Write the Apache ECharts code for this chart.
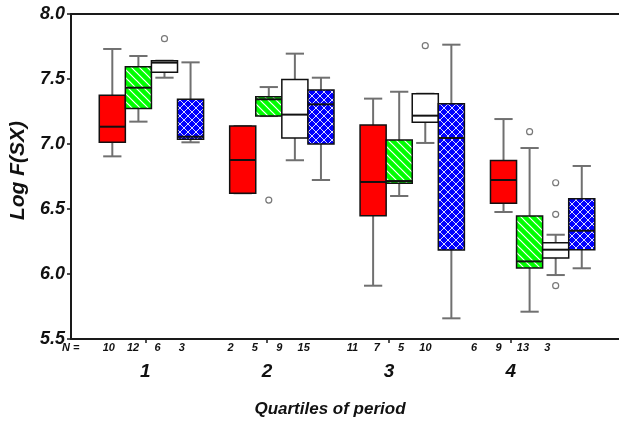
<!DOCTYPE html>
<html>
<head>
<meta charset="utf-8">
<script src="https://cdn.jsdelivr.net/npm/echarts@6/dist/echarts.min.js"></script>
<style>
  html, body { margin: 0; padding: 0; background: #ffffff; }
  #chart { width: 619px; height: 424px; }
</style>
</head>
<body>
<div id="chart"></div>
<script>
// Quartiles of period (x categories)
const quartiles = ['1', '2', '3', '4'];

// Five-number summaries per quartile: [min, q1, median, q3, max]
const redBoxes = [
  [6.905, 7.013, 7.133, 7.375, 7.731],
  [6.621, 6.621, 6.877, 7.138, 7.138],
  [5.910, 6.449, 6.708, 7.146, 7.349],
  [6.477, 6.544, 6.723, 6.874, 7.192]
];
const greenBoxes = [
  [7.172, 7.274, 7.433, 7.595, 7.677],
  [7.215, 7.215, 7.344, 7.364, 7.438],
  [6.600, 6.698, 6.715, 7.031, 7.402],
  [5.710, 6.046, 6.097, 6.446, 6.969]
];
const whiteBoxes = [
  [7.510, 7.551, 7.626, 7.641, 7.641],
  [6.875, 7.046, 7.226, 7.497, 7.695],
  [7.008, 7.167, 7.218, 7.387, 7.387],
  [5.992, 6.123, 6.187, 6.241, 6.302]
];
const blueBoxes = [
  [7.013, 7.036, 7.056, 7.344, 7.628],
  [6.723, 7.000, 7.305, 7.415, 7.510],
  [5.659, 6.185, 7.046, 7.310, 7.764],
  [6.044, 6.187, 6.333, 6.579, 6.831]
];

// Outliers: [quartile index, value]
const redOutliers = [];
const greenOutliers = [[1, 6.569], [3, 7.095]];
const whiteOutliers = [[0, 7.810], [2, 7.756], [3, 6.702], [3, 6.459], [3, 5.910]];
const blueOutliers = [];

// Group sizes (N) per quartile
const redN = [10, 2, 11, 6];
const greenN = [12, 5, 7, 9];
const whiteN = [6, 9, 5, 13];
const blueN = [3, 15, 10, 3];

const FONT = '"Liberation Sans", Arial, Helvetica, sans-serif';

// Fill patterns
function hatchPattern() {
  const c = document.createElement('canvas');
  c.width = 8; c.height = 8;
  const g = c.getContext('2d');
  g.fillStyle = '#00ff00';
  g.fillRect(0, 0, 8, 8);
  g.strokeStyle = '#ffffff';
  g.lineWidth = 1.2;
  g.beginPath();
  g.moveTo(-2, -2); g.lineTo(10, 10);
  g.moveTo(-2, 6); g.lineTo(2, 10);
  g.moveTo(6, -2); g.lineTo(10, 2);
  g.stroke();
  return { type: 'pattern', image: c, repeat: 'repeat' };
}
function crossPattern() {
  const c = document.createElement('canvas');
  c.width = 8; c.height = 8;
  const g = c.getContext('2d');
  g.fillStyle = '#0000ff';
  g.fillRect(0, 0, 8, 8);
  g.strokeStyle = '#dcdcff';
  g.lineWidth = 1;
  g.beginPath();
  g.moveTo(-2, -2); g.lineTo(10, 10);
  g.moveTo(10, -2); g.lineTo(-2, 10);
  g.moveTo(-2, 6); g.lineTo(2, 10);
  g.moveTo(6, -2); g.lineTo(10, 2);
  g.moveTo(2, -2); g.lineTo(-2, 2);
  g.moveTo(10, 6); g.lineTo(6, 10);
  g.stroke();
  return { type: 'pattern', image: c, repeat: 'repeat' };
}

const groupsInfo = [
  { boxes: redBoxes, outliers: redOutliers, n: redN, fill: '#ff0000' },
  { boxes: greenBoxes, outliers: greenOutliers, n: greenN, fill: hatchPattern() },
  { boxes: whiteBoxes, outliers: whiteOutliers, n: whiteN, fill: '#ffffff' },
  { boxes: blueBoxes, outliers: blueOutliers, n: blueN, fill: crossPattern() }
];

// Each quartile occupies 5 slots: 4 boxes + 1 gap
const slotOf = (q, i) => q * 5 + i;

const boxData = [];
const outlierData = [];
const nData = [];
groupsInfo.forEach((info, i) => {
  info.boxes.forEach((b, q) => boxData.push([slotOf(q, i)].concat(b, [i])));
  info.outliers.forEach(([q, v]) => outlierData.push([slotOf(q, i), v]));
  info.n.forEach((n, q) => nData.push([q + 1 + (i - 1.5) * 0.2, n]));
});

function renderBox(params, api) {
  const s = api.value(0);
  const x = api.coord([s, api.value(3)])[0];
  const yMin = api.coord([s, api.value(1)])[1];
  const yQ1 = api.coord([s, api.value(2)])[1];
  const yMed = api.coord([s, api.value(3)])[1];
  const yQ3 = api.coord([s, api.value(4)])[1];
  const yMax = api.coord([s, api.value(5)])[1];
  const w = api.size([1, 0])[0];
  const cap = w * 0.35;
  const whisker = { stroke: '#707070', lineWidth: 2 };
  return {
    type: 'group',
    children: [
      { type: 'line', shape: { x1: x, y1: yMax, x2: x, y2: yQ3 }, style: whisker },
      { type: 'line', shape: { x1: x, y1: yQ1, x2: x, y2: yMin }, style: whisker },
      { type: 'line', shape: { x1: x - cap, y1: yMax, x2: x + cap, y2: yMax }, style: whisker },
      { type: 'line', shape: { x1: x - cap, y1: yMin, x2: x + cap, y2: yMin }, style: whisker },
      {
        type: 'rect',
        shape: { x: x - w / 2, y: yQ3, width: w, height: yQ1 - yQ3 },
        style: { fill: groupsInfo[api.value(6)].fill, stroke: '#111111', lineWidth: 1.5 }
      },
      { type: 'line', shape: { x1: x - w / 2, y1: yMed, x2: x + w / 2, y2: yMed }, style: { stroke: '#111111', lineWidth: 2 } }
    ]
  };
}

function renderN(params, api) {
  const p = api.coord([api.value(0), 5.5]);
  return {
    type: 'text',
    style: {
      x: p[0], y: p[1] + 9,
      text: String(api.value(1)),
      align: 'center', verticalAlign: 'middle',
      font: 'italic bold 11px ' + FONT,
      fill: '#111111'
    }
  };
}

const chart = echarts.init(document.getElementById('chart'), null, { renderer: 'canvas' });
chart.setOption({
  animation: false,
  backgroundColor: '#ffffff',
  grid: { left: 71, right: 0, top: 14, bottom: 85, containLabel: false, outerBoundsMode: 'none' },
  xAxis: [
    {
      type: 'value', position: 'top',
      min: -1.584, max: 19.428,
      axisLine: { show: true, onZero: false, lineStyle: { color: '#1a1a1a', width: 2 } },
      axisTick: { show: false }, axisLabel: { show: false }, splitLine: { show: false }
    },
    {
      type: 'value', position: 'bottom',
      min: 0.39, max: 4.889,
      axisLine: { show: true, onZero: false, lineStyle: { color: '#1a1a1a', width: 2 } },
      axisTick: { show: true, customValues: [1, 2, 3, 4], length: 4, lineStyle: { color: '#1a1a1a', width: 1.5 } },
      axisLabel: {
        customValues: [1, 2, 3, 4],
        formatter: v => quartiles[Math.round(v) - 1],
        margin: 23,
        fontSize: 19, fontWeight: 'bold', fontStyle: 'italic', fontFamily: FONT, color: '#111111'
      },
      splitLine: { show: false },
      name: 'Quartiles of period', nameLocation: 'middle', nameGap: 62,
      nameTextStyle: { fontSize: 17, fontWeight: 'bold', fontStyle: 'italic', fontFamily: FONT, color: '#111111', padding: [0, 30, 0, 0] }
    }
  ],
  yAxis: {
    type: 'value', min: 5.5, max: 8.0, interval: 0.5,
    axisLine: { show: true, onZero: false, lineStyle: { color: '#1a1a1a', width: 2 } },
    axisTick: { show: true, length: 4, lineStyle: { color: '#1a1a1a', width: 1.5 } },
    axisLabel: {
      formatter: v => v.toFixed(1), margin: 6,
      fontSize: 18, fontWeight: 'bold', fontStyle: 'italic', fontFamily: FONT, color: '#111111'
    },
    splitLine: { show: false },
    name: 'Log F(SX)', nameLocation: 'middle', nameGap: 41, nameRotate: 90,
    nameTextStyle: { fontSize: 21, fontWeight: 'bold', fontStyle: 'italic', fontFamily: FONT, color: '#111111', padding: [0, 0, 0, 12] }
  },
  graphic: [
    {
      type: 'text', left: 62, top: 342,
      style: { text: 'N =', font: 'italic bold 11px ' + FONT, fill: '#111111' }
    }
  ],
  series: [
    {
      type: 'custom', xAxisIndex: 0, yAxisIndex: 0,
      renderItem: renderBox, data: boxData,
      encode: { x: 0, y: [1, 2, 3, 4, 5] }
    },
    {
      type: 'scatter', xAxisIndex: 0, yAxisIndex: 0,
      data: outlierData, symbol: 'circle', symbolSize: 6,
      itemStyle: { color: '#ffffff', borderColor: '#555555', borderWidth: 1.2 }
    },
    {
      type: 'custom', xAxisIndex: 1, yAxisIndex: 0,
      renderItem: renderN, data: nData, clip: false,
      encode: { x: 0, y: 1 }
    }
  ]
});
</script>
</body>
</html>
